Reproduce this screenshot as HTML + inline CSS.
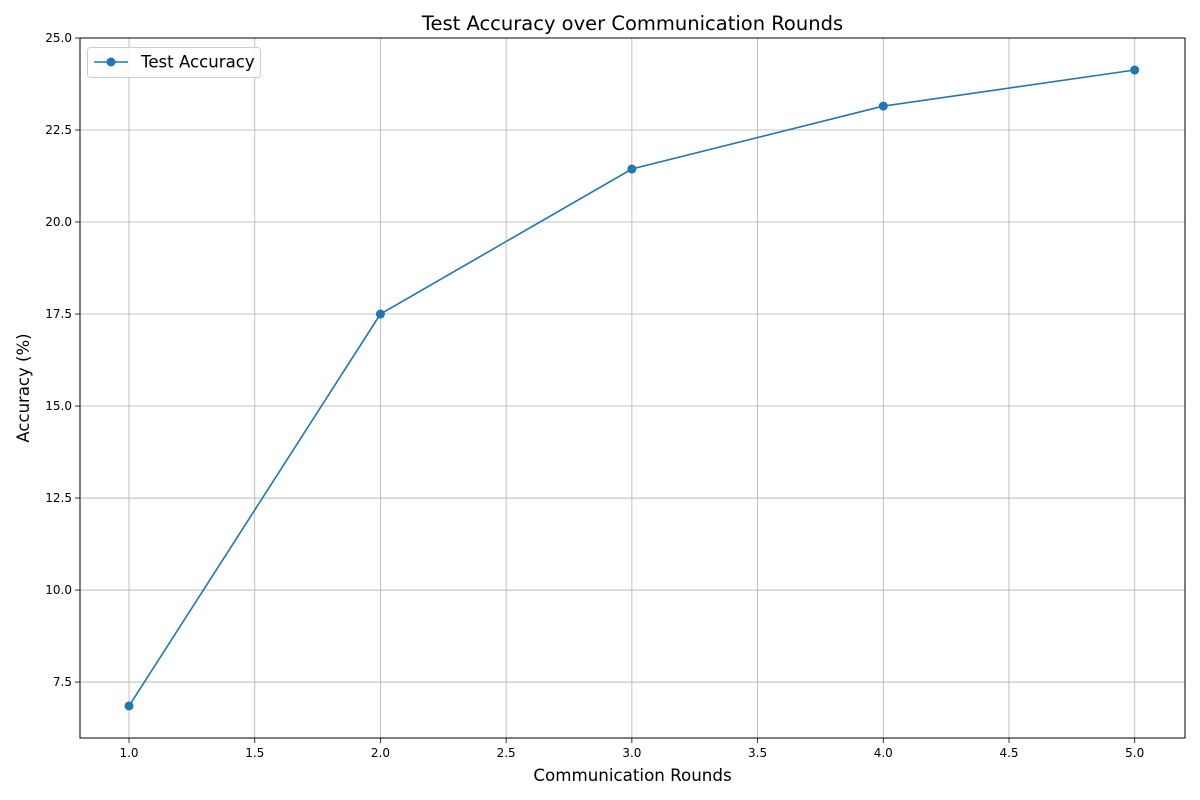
<!DOCTYPE html>
<html><head><meta charset="utf-8"><style>
html,body{margin:0;padding:0;background:#fff;}
svg{display:block;font-family:"DejaVu Sans","Liberation Sans",sans-serif;}
</style></head><body>
<svg id="chart" width="1200" height="800"></svg>
<script>
const rounds = [1, 2, 3, 4, 5];
const accuracy = [6.85, 17.5, 21.44, 23.15, 24.13];
const xTicks = [1.0, 1.5, 2.0, 2.5, 3.0, 3.5, 4.0, 4.5, 5.0];
const yTicks = [7.5, 10.0, 12.5, 15.0, 17.5, 20.0, 22.5, 25.0];
const xDomain = [0.805, 5.2];
const yDomain = [5.98, 25.0];

const L = 80, R = 1185, T = 38, B = 738;
const NS = "http://www.w3.org/2000/svg";
const svg = document.getElementById('chart');
function sx(v){ return L + (v - xDomain[0]) / (xDomain[1] - xDomain[0]) * (R - L); }
function sy(v){ return B - (v - yDomain[0]) / (yDomain[1] - yDomain[0]) * (B - T); }
function mk(tag, attrs, parent){
  const e = document.createElementNS(NS, tag);
  for (const k in attrs) e.setAttribute(k, attrs[k]);
  (parent || svg).appendChild(e);
  return e;
}

const grid = mk('g', {});


xTicks.forEach(t => {
  const x = sx(t);
  mk('line', {x1:x, x2:x, y1:T, y2:B, stroke:'#b0b0b0', 'stroke-width':0.8}, grid);
  mk('line', {x1:x, x2:x, y1:B, y2:B+5, stroke:'#000', 'stroke-width':0.8}, grid);
  const tx = mk('text', {x:x, y:B+19, 'font-size':12, 'text-anchor':'middle', fill:'#000'}, grid);
  tx.textContent = t.toFixed(1);
  
  
});
yTicks.forEach(t => {
  const y = sy(t);
  mk('line', {x1:L, x2:R, y1:y, y2:y, stroke:'#b0b0b0', 'stroke-width':0.8}, grid);
  mk('line', {x1:L-5, x2:L, y1:y, y2:y, stroke:'#000', 'stroke-width':0.8}, grid);
  const tx = mk('text', {x:L-8, y:y+4, 'font-size':12, 'text-anchor':'end', fill:'#000'}, grid);
  tx.textContent = t.toFixed(1);
  
  
});

const frame = mk('rect', {x:L, y:T, width:R-L, height:B-T, fill:'none', stroke:'#000', 'stroke-width':1});



const pts = rounds.map((r,i) => sx(r) + ',' + sy(accuracy[i])).join(' ');
const line = mk('polyline', {points:pts, fill:'none', stroke:'#1f77b4', 'stroke-width':1.6});


rounds.forEach((r,i) => {
  const c = mk('circle', {cx:sx(r), cy:sy(accuracy[i]), r:4.5, fill:'#1f77b4'});
  
  
});

const title = mk('text', {x:(L+R)/2, y:30, 'font-size':19.5, 'text-anchor':'middle', fill:'#000'});
title.textContent = 'Test Accuracy over Communication Rounds';



const xl = mk('text', {x:(L+R)/2, y:781, 'font-size':16.7, 'text-anchor':'middle', fill:'#000'});
xl.textContent = 'Communication Rounds';



const yl = mk('text', {x:0, y:0, 'font-size':16.5, 'text-anchor':'middle', fill:'#000', transform:'translate(29,388) rotate(-90)'});
yl.textContent = 'Accuracy (%)';



const leg = mk('g', {});


mk('rect', {x:87.5, y:47.5, width:173, height:30, rx:3, fill:'#fff', 'fill-opacity':0.8, stroke:'#ccc'}, leg);
mk('line', {x1:94, x2:128, y1:62, y2:62, stroke:'#1f77b4', 'stroke-width':1.6}, leg);
mk('circle', {cx:111, cy:62, r:4.5, fill:'#1f77b4'}, leg);
const lt = mk('text', {x:141, y:67.5, 'font-size':16.6, fill:'#000'}, leg);
lt.textContent = 'Test Accuracy';


</script>
</body></html>
